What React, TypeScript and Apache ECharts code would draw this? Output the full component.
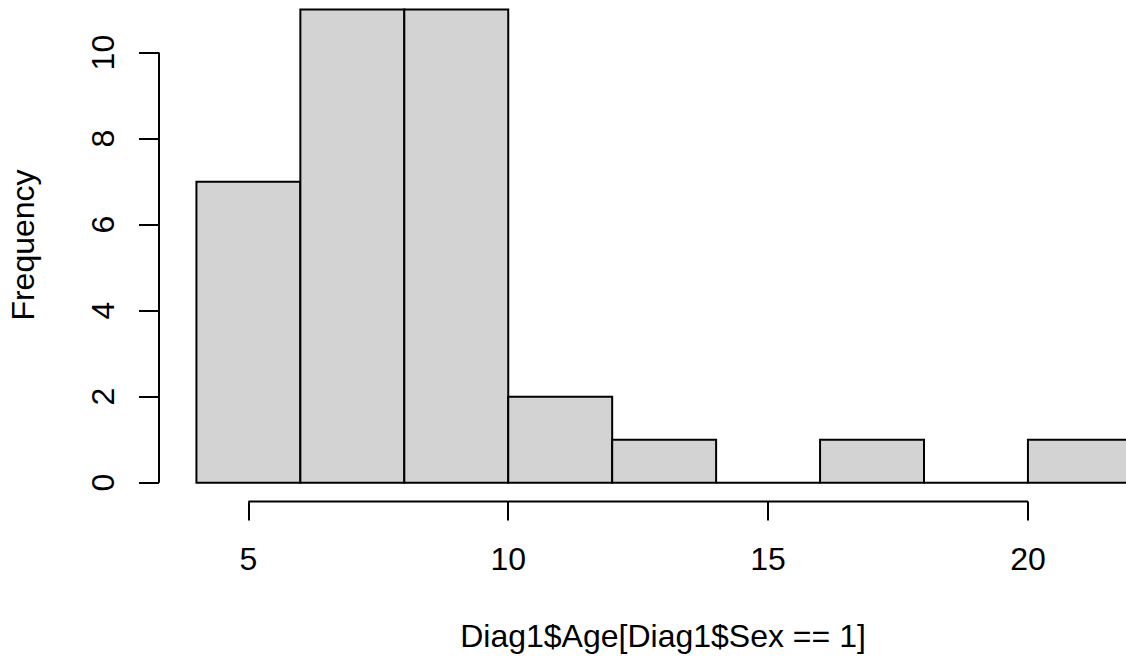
import React, { useEffect, useRef } from "react";
import * as echarts from "echarts";

const binEdges = [4, 6, 8, 10, 12, 14, 16, 18, 20, 22];
const counts = [7, 11, 11, 2, 1, 0, 1, 0, 1];
const xTicks = [5, 10, 15, 20];
const yTicks = [0, 2, 4, 6, 8, 10];
const xLabel = "Diag1$Age[Diag1$Sex == 1]";
const yLabel = "Frequency";

const FONT = "'Liberation Sans', Arial, Helvetica, sans-serif";
const FS = 32;

export default function App() {
  const ref = useRef<HTMLDivElement>(null);
  useEffect(() => {
    const chart = echarts.init(ref.current!, null, { renderer: "svg" });
    const barData = counts.map((c, i) => [binEdges[i], binEdges[i + 1], c]);
    const xMin = 3.28;
    const xMax = 3.28 + 967 / 51.97;
    const yMin = -0.44;
    const yMax = 11.2;
    chart.setOption({
      animation: false,
      backgroundColor: "#ffffff",
      grid: { left: 159, right: 0, top: 1, bottom: 158.4 },
      xAxis: {
        type: "value",
        min: xMin,
        max: xMax,
        axisLine: { show: false, onZero: false },
        splitLine: { show: false },
        axisTick: {
          show: true,
          customValues: xTicks,
          length: 19,
          lineStyle: { color: "#000", width: 2 },
        },
        axisLabel: {
          customValues: xTicks,
          margin: 41,
          fontSize: FS,
          color: "#000",
          fontFamily: FONT,
        },
      },
      yAxis: {
        type: "value",
        min: yMin,
        max: yMax,
        axisLine: { show: false, onZero: false },
        splitLine: { show: false },
        axisTick: {
          show: true,
          customValues: yTicks,
          length: 20,
          lineStyle: { color: "#000", width: 2 },
        },
        axisLabel: {
          customValues: yTicks,
          rotate: 90,
          margin: 40,
          fontSize: FS,
          color: "#000",
          fontFamily: FONT,
        },
      },
      series: [
        {
          type: "custom",
          data: barData,
          clip: true,
          encode: { x: [0, 1], y: 2 },
          renderItem: (params: any, api: any) => {
            const p0 = api.coord([api.value(0), 0]);
            const p1 = api.coord([api.value(1), api.value(2)]);
            return {
              type: "rect",
              shape: {
                x: p0[0],
                y: p1[1],
                width: p1[0] - p0[0],
                height: p0[1] - p1[1],
              },
              style: { fill: "#D3D3D3", stroke: "#000", lineWidth: 2 },
            };
          },
        },
        {
          type: "custom",
          data: [[xTicks[0], yTicks[0]]],
          clip: false,
          silent: true,
          renderItem: (params: any, api: any) => {
            const xa0 = api.coord([xTicks[0], yMin]);
            const xa1 = api.coord([xTicks[xTicks.length - 1], yMin]);
            const ya0 = api.coord([xMin, yTicks[0]]);
            const ya1 = api.coord([xMin, yTicks[yTicks.length - 1]]);
            return {
              type: "group",
              children: [
                {
                  type: "line",
                  shape: { x1: xa0[0], y1: xa0[1], x2: xa1[0], y2: xa1[1] },
                  style: { stroke: "#000", lineWidth: 2 },
                },
                {
                  type: "line",
                  shape: { x1: ya0[0], y1: ya0[1], x2: ya1[0], y2: ya1[1] },
                  style: { stroke: "#000", lineWidth: 2 },
                },
              ],
            };
          },
        },
      ],
      graphic: [
        {
          type: "text",
          x: 663,
          y: 636,
          style: {
            text: xLabel,
            font: `${FS}px ${FONT}`,
            fill: "#000",
            textAlign: "center",
            textVerticalAlign: "middle",
          },
        },
        {
          type: "text",
          x: 23,
          y: 245,
          rotation: Math.PI / 2,
          style: {
            text: yLabel,
            font: `${FS}px ${FONT}`,
            fill: "#000",
            textAlign: "center",
            textVerticalAlign: "middle",
          },
        },
      ],
    });
    return () => chart.dispose();
  }, []);
  return (
    <div
      ref={ref}
      style={{
        position: "fixed",
        left: 0,
        top: 0,
        width: 1126,
        height: 660,
        background: "#fff",
      }}
    />
  );
}
